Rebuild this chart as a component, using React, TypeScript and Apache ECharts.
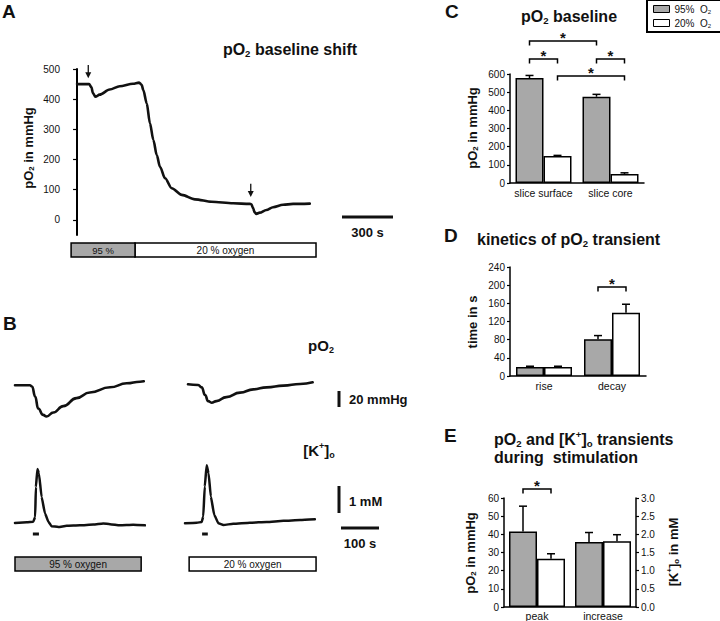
import React, { useEffect, useRef } from 'react';
import * as echarts from 'echarts';

const FONT = '"Liberation Sans", Arial, Helvetica, sans-serif';
const GRAY = '#a8a8a8';
const INK = '#111';

// ---------- Panel A : pO2 baseline shift (time in s, pO2 in mmHg)
const traceATime = [0, 71, 84, 94, 108, 133, 192, 251, 329, 365, 380, 390, 410, 429, 449, 469, 488, 518, 557, 616, 694, 792, 918, 1016, 1026, 1035, 1045, 1055, 1075, 1114, 1153, 1212, 1271, 1369];
const traceAPo2 = [450, 450, 440, 420, 408, 415, 432, 443, 451, 455, 448, 430, 386, 320, 265, 215, 176, 138, 105, 83, 68, 60, 55, 53, 52, 40, 25, 20, 24, 33, 42, 50, 53, 54];
const tickValuesA = [0, 100, 200, 300, 400, 500];
const arrowTimesA = [66, 1022];
const arrowTopA = [513, 120];
const arrowTipA = [469, 76];
const oxygenBarA = [-35, 341, 1406]; // start 95 %, switch to 20 %, end
const scaleBarA = 300; // s

// ---------- Panel B : transients (time in s, delta pO2 in mmHg, delta K in mM)
const po2At95Time = [0, 39, 45, 53, 61, 74, 83, 101, 127, 162, 197, 250, 294, 329, 339];
const po2At95 = [0, 0, -1.5, -14, -29, -37, -39, -34, -26, -16, -9, -2.5, 2.5, 4.5, 5];
const po2At20Time = [0, 27, 36, 45, 53, 62, 75, 101, 137, 172, 207, 251, 295, 328];
const po2At20 = [0, -0.8, -3.8, -13.4, -21, -23, -21, -16, -10.4, -6.3, -3.8, -1.7, 0.4, 2.5];
const kAt95Time = [0, 31, 48, 53, 55, 59, 63, 70, 79, 88, 96, 114, 136, 171, 206, 232, 250, 276, 311, 342];
const kAt95 = [0, 0.02, 0.04, 0.22, 1.33, 2.0, 1.83, 0.96, 0.35, 0.04, -0.12, -0.15, -0.11, -0.09, -0.06, -0.02, -0.05, -0.09, -0.07, -0.09];
const kAt20Time = [0, 31, 44, 48, 52, 57, 62, 68, 77, 88, 101, 127, 171, 215, 259, 303, 342];
const kAt20 = [0, 0.02, 0.05, 0.25, 1.36, 2.15, 1.85, 0.99, 0.31, 0, -0.06, -0.02, 0.02, 0.05, 0.09, 0.12, 0.15];
const stimAt95 = [47, 63];
const stimAt20 = [45, 60];
const oxygenBarB95 = [0, 332];
const oxygenBarB20 = [3, 337];
const scaleBarBPo2 = 20; // mmHg
const scaleBarBK = 1; // mM
const scaleBarBTime = 100; // s

// ---------- Panel C : pO2 baseline
const cCategories = ['slice surface', 'slice core'];
const c95 = [578, 475];
const c95Err = [14, 13];
const c20 = [148, 50];
const c20Err = [4, 6];
// [cat1, side1, cat2, side2, level]
const cBrackets = [[0, 0, 1, 0, 782], [0, 0, 0, 1, 683], [1, 0, 1, 1, 683], [0, 1, 1, 1, 589]];

// ---------- Panel D : kinetics of pO2 transient
const dCategories = ['rise', 'decay'];
const d95 = [20, 81];
const d95Err = [1.5, 8];
const d20 = [20, 139];
const d20Err = [1.5, 19];
const dBrackets = [[1, 0, 1, 1, 196]];

// ---------- Panel E : pO2 (mmHg, left axis) and K (mM, right axis)
const eCategories = ['peak', 'increase'];
const e95 = [41.5, 1.79];
const e95Err = [14, 0.26];
const e20 = [26.5, 1.81];
const e20Err = [2.8, 0.18];
const eAxisOfCategory = [0, 1];
const eLeftMax = 60;
const eRightMax = 3;
const eBrackets = [[0, 0, 0, 1, 65]];

const NAME95 = '95% O₂';
const NAME20 = '20% O₂';

const BAR_W = 28;
const HALF = BAR_W / 2;

const pairs = (xs: number[], ys: number[]) => xs.map((x, i) => [x, ys[i]]);

// 'pO_{2} text [K^{+}]_{o}' -> rich text
const toRich = (s: string) => {
  let out = '';
  const re = /([_^])\{([^}]*)\}/g;
  let last = 0;
  let m: RegExpExecArray | null;
  while ((m = re.exec(s))) {
    if (m.index > last) out += '{n|' + s.slice(last, m.index) + '}';
    out += (m[1] === '_' ? '{s|' : '{p|') + m[2] + '}';
    last = m.index + m[0].length;
  }
  if (last < s.length) out += '{n|' + s.slice(last) + '}';
  return out;
};
const richStyles = (size: number, bold: boolean) => {
  const fw = bold ? 'bold' : 'normal';
  const small = Math.round(size * 0.6 * 10) / 10;
  return {
    n: { fontSize: size, fontWeight: fw, fontFamily: FONT, fill: INK, lineHeight: size * 1.2 },
    s: { fontSize: small, fontWeight: fw, fontFamily: FONT, fill: INK, lineHeight: small, verticalAlign: 'bottom' },
    p: { fontSize: small, fontWeight: fw, fontFamily: FONT, fill: INK, lineHeight: small, verticalAlign: 'top' },
  };
};

const errRender = (params: any, api: any) => {
  const cat = api.value(0);
  const side = api.value(1);
  const val = api.value(2);
  const err = api.value(3);
  const p0 = api.coord([cat, val]);
  const p1 = api.coord([cat, val + err]);
  const x = p0[0] + (side === 0 ? -HALF : HALF);
  const st = { stroke: '#000', lineWidth: 1.5 };
  return {
    type: 'group',
    children: [
      { type: 'line', shape: { x1: x, y1: p0[1], x2: x, y2: p1[1] }, style: st },
      { type: 'line', shape: { x1: x - 4, y1: p1[1], x2: x + 4, y2: p1[1] }, style: st },
    ],
  };
};

const bracketRender = (params: any, api: any) => {
  const c1 = api.value(0), s1 = api.value(1), c2 = api.value(2), s2 = api.value(3), lv = api.value(4);
  const a = api.coord([c1, lv]);
  const b = api.coord([c2, lv]);
  const x1 = a[0] + (s1 === 0 ? -HALF : HALF);
  const x2 = b[0] + (s2 === 0 ? -HALF : HALF);
  const y = a[1];
  return {
    type: 'group',
    children: [
      { type: 'polyline', shape: { points: [[x1, y + 4.5], [x1, y], [x2, y], [x2, y + 4.5]] }, style: { stroke: '#000', lineWidth: 1.5, fill: 'none' } },
      { type: 'text', x: (x1 + x2) / 2, y: y - 3.5, style: { text: '*', fontSize: 15, fontWeight: 'bold', fontFamily: FONT, fill: INK, align: 'center', verticalAlign: 'middle' } },
    ],
  };
};

const errData = (vals: number[], errs: number[], side: number, conv?: (v: number, i: number) => number) =>
  vals.map((v, i) => [i, side, conv ? conv(v, i) : v, conv ? conv(errs[i], i) : errs[i]]);

const hiddenValueAxis = (gridIndex: number, min: number, max: number) => ({
  type: 'value', gridIndex, min, max, show: false, splitLine: { show: false },
});

const catAxis = (gridIndex: number, data: string[], margin: number) => ({
  type: 'category', gridIndex, data,
  axisLine: { lineStyle: { color: '#000', width: 1.5 } },
  axisTick: { show: false },
  axisLabel: { fontSize: 10.5, color: INK, fontFamily: FONT, margin, interval: 0 },
  splitLine: { show: false },
});

const barYAxis = (gridIndex: number, max: number, interval: number, position = 'left', fmt?: (v: number) => string) => ({
  type: 'value', gridIndex, min: 0, max, interval, position,
  axisLine: { show: true, lineStyle: { color: '#000', width: 1.5 } },
  axisTick: { show: true, length: 3, lineStyle: { color: '#000', width: 1.2 } },
  axisLabel: { fontSize: 10, color: INK, fontFamily: FONT, margin: 5, formatter: fmt },
  splitLine: { show: false },
});

const barSeries = (name: string, color: string, xi: number, yi: number, data: number[]) => ({
  name, type: 'bar', xAxisIndex: xi, yAxisIndex: yi, data, barWidth: BAR_W, barGap: '0%',
  itemStyle: { color, borderColor: '#000', borderWidth: 1.5 },
});

const customSeries = (xi: number, yi: number, data: number[][], renderItem: any) => ({
  type: 'custom', xAxisIndex: xi, yAxisIndex: yi, data, renderItem, clip: false, z: 5, silent: true,
});

const kToLeft = (v: number, i: number) => (eAxisOfCategory[i] === 1 ? v * (eLeftMax / eRightMax) : v);

export default function App() {
  const ref = useRef<HTMLDivElement>(null);

  useEffect(() => {
    if (!ref.current) return;
    const chart = echarts.init(ref.current, null, { renderer: 'svg' });
    const ob = { outerBoundsMode: 'none' };
    const traceLine = (xi: number, data: number[][], smooth: number, width: number) => ({
      type: 'line', xAxisIndex: xi, yAxisIndex: xi, data, showSymbol: false, smooth, smoothMonotone: 'x',
      lineStyle: { color: INK, width, cap: 'round', join: 'round' }, silent: true,
    });
    const option: any = {
      animation: false,
      backgroundColor: '#fff',
      textStyle: { fontFamily: FONT },
      grid: [
        { left: 66, top: 69, width: 249, height: 166, ...ob },
        { left: 15, top: 377.3, width: 129.2, height: 44, ...ob },
        { left: 188, top: 376.3, width: 129.2, height: 44, ...ob },
        { left: 15, top: 460.8, width: 129.2, height: 70.2, ...ob },
        { left: 185, top: 461.2, width: 129.2, height: 70.2, ...ob },
        { left: 510, top: 74, width: 134, height: 109, ...ob },
        { left: 510, top: 267, width: 136, height: 109, ...ob },
        { left: 504, top: 498, width: 132, height: 109, ...ob },
      ],
      xAxis: [
        hiddenValueAxis(0, -65, 1400),
        hiddenValueAxis(1, 0, 340),
        hiddenValueAxis(2, 0, 340),
        hiddenValueAxis(3, 0, 340),
        hiddenValueAxis(4, 0, 340),
        catAxis(5, cCategories, 4),
        catAxis(6, dCategories, 4),
        catAxis(7, eCategories, 3),
      ],
      yAxis: [
        {
          type: 'value', gridIndex: 0, min: -50, max: 500,
          axisLine: { show: true, lineStyle: { color: '#000', width: 2 } },
          axisTick: { show: true, length: 4, customValues: tickValuesA, lineStyle: { color: '#000', width: 1.2 } },
          axisLabel: { fontSize: 10, color: INK, fontFamily: FONT, margin: 6, customValues: tickValuesA },
          splitLine: { show: false },
        },
        hiddenValueAxis(1, -45, 10),
        hiddenValueAxis(2, -45, 10),
        hiddenValueAxis(3, -0.3, 2.3),
        hiddenValueAxis(4, -0.3, 2.3),
        barYAxis(5, 600, 100),
        barYAxis(6, 240, 40),
        barYAxis(7, eLeftMax, 10),
        barYAxis(7, eRightMax, 0.5, 'right', (v: number) => v.toFixed(1)),
      ],
      legend: {
        left: 647, top: 0, orient: 'vertical', selectedMode: false,
        borderColor: '#000', borderWidth: 2, padding: [4, 12, 3, 6], itemGap: 3,
        itemWidth: 16, itemHeight: 7, icon: 'rect',
        formatter: (name: string) => (name === NAME95 ? '{n|95%  O}{s|2}' : '{n|20%  O}{s|2}'),
        textStyle: {
          fontSize: 10, color: INK, fontFamily: FONT,
          rich: {
            n: { fontSize: 10, color: INK, fontFamily: FONT, lineHeight: 12 },
            s: { fontSize: 6, color: INK, fontFamily: FONT, lineHeight: 6, verticalAlign: 'bottom' },
          },
        },
        data: [
          { name: NAME95, itemStyle: { color: GRAY, borderColor: '#000', borderWidth: 1 } },
          { name: NAME20, itemStyle: { color: '#fff', borderColor: '#000', borderWidth: 1 } },
        ],
      },
      series: [
        traceLine(0, pairs(traceATime, traceAPo2), 0.3, 2.6),
        traceLine(1, pairs(po2At95Time, po2At95), 0.5, 2.6),
        traceLine(2, pairs(po2At20Time, po2At20), 0.5, 2.6),
        traceLine(3, pairs(kAt95Time, kAt95), 0.15, 2.5),
        traceLine(4, pairs(kAt20Time, kAt20), 0.15, 2.5),

        barSeries(NAME95, GRAY, 5, 5, c95),
        barSeries(NAME20, '#fff', 5, 5, c20),
        customSeries(5, 5, [...errData(c95, c95Err, 0), ...errData(c20, c20Err, 1)], errRender),
        customSeries(5, 5, cBrackets, bracketRender),

        barSeries(NAME95, GRAY, 6, 6, d95),
        barSeries(NAME20, '#fff', 6, 6, d20),
        customSeries(6, 6, [...errData(d95, d95Err, 0), ...errData(d20, d20Err, 1)], errRender),
        customSeries(6, 6, dBrackets, bracketRender),

        barSeries(NAME95, GRAY, 7, 7, e95.map(kToLeft)),
        barSeries(NAME20, '#fff', 7, 7, e20.map(kToLeft)),
        customSeries(7, 7, [...errData(e95, e95Err, 0, kToLeft), ...errData(e20, e20Err, 1, kToLeft)], errRender),
        customSeries(7, 7, eBrackets, bracketRender),
      ],
    };
    chart.setOption(option);

    const px = (g: number, x: number, y: number) => chart.convertToPixel({ gridIndex: g }, [x, y]) as number[];
    const txt = (text: string, x: number, y: number, size: number, bold: boolean, align = 'center', rot = 0) => ({
      type: 'text', x, y, rotation: rot, silent: true,
      style: {
        text: toRich(text), rich: richStyles(size, bold),
        fontSize: size, fontWeight: bold ? 'bold' : 'normal', fontFamily: FONT, fill: INK, align, verticalAlign: 'middle',
      },
    });
    const rect = (x: number, y: number, w: number, h: number, fill: string, lw = 1.5) => ({
      type: 'rect', shape: { x, y, width: w, height: h }, silent: true, style: { fill, stroke: '#000', lineWidth: lw },
    });
    const line = (x1: number, y1: number, x2: number, y2: number, w: number) => ({
      type: 'line', shape: { x1, y1, x2, y2 }, silent: true, style: { stroke: INK, lineWidth: w },
    });

    const els: any[] = [];
    // panel letters
    els.push(txt('A', 2, 11.5, 19, true, 'left'));
    els.push(txt('B', 3, 323, 19, true, 'left'));
    els.push(txt('C', 445, 11, 19, true, 'left'));
    els.push(txt('D', 444, 235.5, 19, true, 'left'));
    els.push(txt('E', 444, 435, 19, true, 'left'));
    // titles
    els.push(txt('pO_{2} baseline shift', 290, 49, 16, true));
    els.push(txt('pO_{2} baseline', 569, 16, 16, true));
    els.push(txt('kinetics of pO_{2} transient', 477, 239, 16, true, 'left'));
    els.push(txt('pO_{2} and [K^{+}]_{o} transients', 494, 439, 16, true, 'left'));
    els.push(txt('during  stimulation', 494, 457.5, 16, true, 'left'));
    // axis titles
    const R = Math.PI / 2;
    els.push(txt('pO_{2} in mmHg', 28, 148, 13, true, 'center', R));
    els.push(txt('pO_{2} in mmHg', 472, 128, 13, true, 'center', R));
    els.push(txt('time in s', 472, 322, 13, true, 'center', R));
    els.push(txt('pO_{2} in mmHg', 470, 553, 13, true, 'center', R));
    els.push(txt('[K^{+}]_{o} in mM', 673, 552, 13, true, 'center', R));

    // Panel A arrows
    arrowTimesA.forEach((t, i) => {
      const top = px(0, t, arrowTopA[i]);
      const tip = px(0, t, arrowTipA[i]);
      els.push(line(top[0], top[1], tip[0], tip[1] - 4, 1.3));
      els.push({ type: 'polygon', silent: true, shape: { points: [[tip[0] - 3, tip[1] - 6], [tip[0] + 3, tip[1] - 6], [tip[0], tip[1]]] }, style: { fill: INK } });
    });
    // Panel A oxygen bar
    const a0 = px(0, oxygenBarA[0], 0)[0];
    const a1 = px(0, oxygenBarA[1], 0)[0];
    const a2 = px(0, oxygenBarA[2], 0)[0];
    els.push(rect(a1, 243, a2 - a1, 14, '#fff'));
    els.push(rect(a0, 243, a1 - a0, 14, GRAY));
    els.push(txt('95 %', (a0 + a1) / 2, 250, 9.5, false));
    els.push(txt('20 % oxygen', (a1 + a2) / 2, 250, 10, false));
    // Panel A scale bar
    const sA = px(0, scaleBarA, 0)[0] - px(0, 0, 0)[0];
    els.push(line(342, 217, 342 + sA, 217, 3));
    els.push(txt('300 s', 342 + sA / 2, 232, 13, true));

    // Panel B labels
    els.push(txt('pO_{2}', 321, 345, 15, true));
    els.push(txt('[K^{+}]_{o}', 319, 450, 15, true));
    // B scale bars
    const sPo2 = Math.abs(px(1, 0, scaleBarBPo2)[1] - px(1, 0, 0)[1]);
    els.push(line(339, 391, 339, 391 + sPo2, 3));
    els.push(txt('20 mmHg', 349, 399, 13, true, 'left'));
    const sK = Math.abs(px(3, 0, scaleBarBK)[1] - px(3, 0, 0)[1]);
    els.push(line(339, 486, 339, 486 + sK, 3));
    els.push(txt('1 mM', 349, 501, 13, true, 'left'));
    const sT = px(1, scaleBarBTime, 0)[0] - px(1, 0, 0)[0];
    els.push(line(341, 528, 341 + sT, 528, 3));
    els.push(txt('100 s', 341 + sT / 2, 543, 13, true));
    // B stimulus markers
    const st1a = px(3, stimAt95[0], 0)[0], st1b = px(3, stimAt95[1], 0)[0];
    els.push({ type: 'rect', silent: true, shape: { x: st1a, y: 532.5, width: st1b - st1a, height: 3 }, style: { fill: INK } });
    const st2a = px(4, stimAt20[0], 0)[0], st2b = px(4, stimAt20[1], 0)[0];
    els.push({ type: 'rect', silent: true, shape: { x: st2a, y: 532.5, width: st2b - st2a, height: 3 }, style: { fill: INK } });
    // B oxygen bars
    const b1a = px(1, oxygenBarB95[0], 0)[0], b1b = px(1, oxygenBarB95[1], 0)[0];
    els.push(rect(b1a, 557, b1b - b1a, 14, GRAY));
    els.push(txt('95 % oxygen', (b1a + b1b) / 2, 564, 10, false));
    const b2a = px(2, oxygenBarB20[0], 0)[0], b2b = px(2, oxygenBarB20[1], 0)[0];
    els.push(rect(b2a, 557, b2b - b2a, 14, '#fff'));
    els.push(txt('20 % oxygen', (b2a + b2b) / 2, 564, 10, false));

    chart.setOption({ graphic: { elements: els } });
    return () => chart.dispose();
  }, []);

  return <div ref={ref} style={{ position: 'fixed', left: 0, top: 0, width: 720, height: 621, background: '#fff' }} />;
}
